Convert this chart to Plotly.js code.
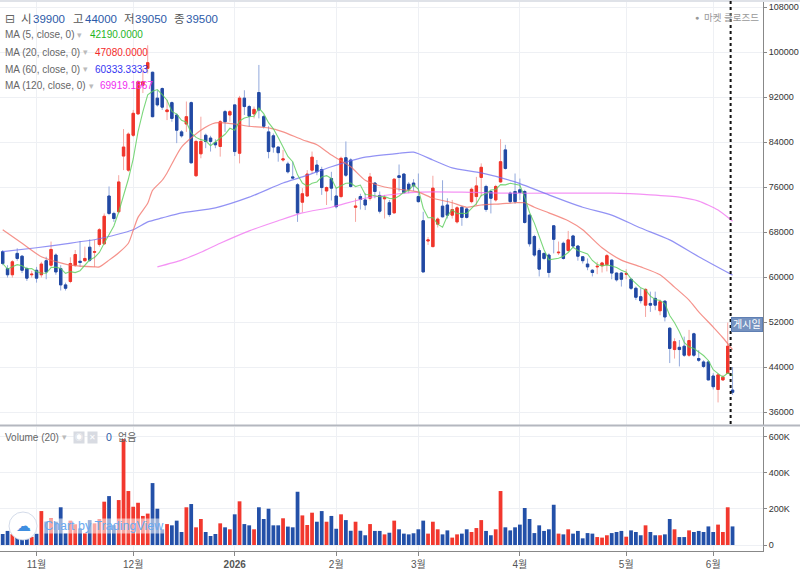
<!DOCTYPE html>
<html><head><meta charset="utf-8">
<script src="https://cdn.plot.ly/plotly-3.0.1.min.js"></script>
<style>html,body{margin:0;padding:0;background:#fff;}#chart{width:800px;height:569px;}</style>
</head><body><div id="chart"></div>
<script>
// ---- data (bar index 0 = first visible trading day) ----
const open = [64500,61500,60400,64200,63700,61500,60400,61200,60400,62900,
62100,63900,61500,58600,59200,62100,62800,62900,65300,64400,
65800,65900,74400,71300,71600,81500,79000,85200,89000,94100,
97100,96400,91800,93500,89400,91000,88800,85800,87200,91000,
78000,81900,85200,84700,83900,83200,89400,88800,90600,82000,
91800,90300,89000,92800,88500,85800,85100,83100,80800,80100,
77800,76400,73300,74400,79000,79900,79100,75300,77500,74400,
74300,81200,80800,72400,74300,73700,74000,76700,74500,73900,
73200,71400,78000,78300,76500,76700,74300,70000,66400,65400,
69400,72600,72800,71000,69800,72400,72100,73400,74300,77700,
76100,75200,73700,76900,82600,74900,75200,75500,75200,71000,
67200,64700,64200,63900,69100,64300,66000,64700,67300,65500,
63600,62300,61200,61800,62000,62200,63000,60700,60700,60500,
59600,58000,56500,55000,55300,56200,54000,55700,50900,47100,
47500,47700,46100,49900,45500,44900,44900,42400,40000,41700,
42900,39900];
const high = [64800,62100,63000,65100,63900,61800,61100,61800,62700,63600,
66300,64200,62100,59000,63500,64800,66400,65400,66700,66600,
68700,71300,76100,71600,78100,86300,85700,89700,95000,97100,
101200,96500,93200,93700,91500,91200,89100,86100,91200,91200,
84400,88500,85500,85100,84500,87900,89700,89700,90600,92200,
93200,90600,90300,97700,88800,86800,85500,83200,82600,80500,
80500,76700,75800,79000,82300,80800,79600,76100,78700,75800,
81400,84100,81100,74000,74800,74900,78500,76900,75200,74600,
73700,77500,80000,78400,76900,77400,78400,71600,67100,78000,
70600,77200,74000,73700,72600,72600,72400,75900,77800,80200,
76400,75500,76400,84500,83500,75200,78400,77500,75500,71200,
67500,65100,64300,64200,69200,66300,66300,68200,67500,65700,
63700,63300,61400,62700,62700,64100,63100,60800,60900,61400,
59800,58300,58000,58000,57400,57400,56000,55900,51100,49100,
48800,49400,50600,50100,47000,45200,45200,42900,42900,42600,
51900,44000];
const low = [62100,59900,59900,62900,60700,59300,59900,59000,59900,59600,
61800,60400,57600,57600,58900,61800,61800,62700,62700,61800,
65400,65700,71000,69800,71300,79000,78700,84900,88800,92700,
96200,88400,90300,89700,87900,87600,83800,84800,85800,80200,
77800,81100,82900,82300,82900,81400,85800,87600,81500,80200,
88800,86700,88200,88200,86400,81100,82100,80500,80500,78400,
77500,69800,71500,74300,78400,78100,74600,72800,73600,72200,
74000,77800,75900,69800,72000,71900,73600,74000,71300,70400,
70700,71300,75200,74800,74900,75300,73200,60900,65700,65300,
68800,70600,70400,70400,69500,69100,70400,73100,72800,74300,
71600,71300,73400,76800,79100,73100,73000,73700,69500,65400,
63600,60100,63000,59900,64200,63900,63100,64500,65100,62900,
62400,61200,60100,60500,60800,61000,59600,59200,58300,59600,
57700,55900,55300,52900,53800,54100,53200,52100,44700,45500,
44100,45800,45800,45800,44900,43800,41700,40000,37700,41600,
42800,39050];
const close = [62400,60400,62700,63300,61200,59800,60500,59800,62300,60900,
64900,60900,58600,58000,62400,64000,62600,63300,63000,64500,
68400,70800,71300,70400,76900,83100,85400,89100,94700,94700,
98100,88500,90600,90200,89700,88200,86100,85100,88500,80300,
84100,84100,84100,84100,83500,87600,87600,89400,82300,91800,
90300,88600,89800,89700,86800,82300,83100,82100,81000,78700,
77600,71400,74800,78300,81300,78700,75900,75900,75800,72500,
81100,78100,76100,72600,73800,72800,77800,75200,71700,74100,
71100,77400,77700,75000,75600,76200,73400,60900,66600,75800,
70300,70700,71000,72000,72300,70600,70600,75600,76200,79500,
72000,74000,76100,80500,79300,73400,73400,75000,69700,65900,
63900,61400,63300,60800,66700,64400,63300,66600,65500,63700,
62900,61800,60800,61900,62500,63800,60700,59500,59600,60600,
58000,56400,55800,57800,55000,55000,55600,52900,47300,48500,
47100,46100,48700,46100,45200,44100,41700,40500,42600,42200,
47700,39500];
const volume = [61000,78000,60000,40000,35000,35000,45000,62000,188000,130000,
148000,129000,209000,65000,135000,115000,92000,65000,138000,120000,
144000,240000,271000,110000,249000,587000,299000,212000,234000,161000,
174000,343000,201000,87000,116000,109000,135000,72000,209000,227000,
98000,144000,72000,50000,61000,120000,98000,87000,170000,242000,
116000,109000,87000,209000,144000,201000,109000,109000,148000,102000,
98000,295000,164000,111000,179000,129000,188000,129000,161000,90000,
170000,138000,79000,129000,79000,54000,116000,78000,78000,59000,
68000,135000,87000,63000,59000,65000,87000,135000,63000,129000,
87000,59000,81000,41000,59000,63000,87000,72000,94000,138000,
78000,54000,87000,299000,98000,81000,98000,113000,205000,144000,
66000,109000,78000,87000,223000,63000,59000,87000,63000,78000,
37000,66000,63000,44000,41000,54000,66000,72000,78000,46000,
81000,72000,54000,109000,72000,54000,54000,59000,144000,87000,
44000,44000,81000,72000,78000,72000,103000,72000,113000,72000,
209000,103000];

// moving averages (bar index, value)
const ma20Idx = [0,4,8,12,14,19,20,22,24,26,27,28,30,31,33,34,37,41,44,48,51,55,58,62,65,68,72,75,79,82,86,89,93,96,99,103,106,108,110,113,117,120,124,128,132,136,139,142,144,147,149,151];
const ma20Val = [68400,66000,63600,62500,62100,61800,61800,63000,64300,66000,68300,70600,73100,75400,77200,78500,83100,86100,87400,87200,86800,86500,85800,84400,83500,81700,79600,77200,76000,75600,75100,74000,73200,72400,72800,73000,73200,73200,72400,71400,70000,68400,65200,63000,61800,60400,58200,55900,53800,51100,49200,47080];
const ma60Idx = [0,7,13,20,27,30,33,37,44,51,58,62,68,75,82,85,89,93,99,106,113,120,126,132,138,144,151];
const ma60Val = [64500,65200,65900,66800,68400,69800,70500,71400,72300,74200,76700,77800,79600,81300,82000,82200,80800,79400,78500,76900,74600,72400,71000,68700,66600,63600,60333];
const ma120Idx = [32,37,41,45,51,57,62,68,75,82,86,95,103,113,126,134,140,144,148,151];
const ma120Val = [61800,63000,64400,66000,68200,70000,71400,72400,74000,74800,75100,75100,74900,74900,74900,74600,74200,73500,71900,69919];

const priceTicks = [36000,44000,52000,60000,68000,76000,84000,92000,100000,108000];
const volTicks = [0,200000,400000,600000];
const volTickText = ['0','200K','400K','600K'];
const monthTickIdx = [7,27,48,69,86,107,129,147];
const monthTickText = ['11월','12월','<b>2026</b>','2월','3월','4월','5월','6월'];

// ---- derived ----
const idx = open.map((_, i) => i);
const ma5 = close.map((_, i) => { const s = close.slice(Math.max(0, i - 4), i + 1); return s.reduce((a, b) => a + b, 0) / s.length; });
const bodyHigh = open.map((o, i) => Math.max(o, close[i]));
const bodyLow = open.map((o, i) => Math.min(o, close[i]));
const UP = '#f0352b', DOWN = '#2249a3', UPW = '#f6a6a1', DOWNW = '#93a9dc';
const volColors = open.map((o, i) => close[i] >= o ? '#f2382e' : '#2350a8');

const W = 763, H = 550, T = 1;
const px = x => x / W;
const py = y => (T + H - y) / H;
const xRange = [-0.56, 157.3];

const traces = [
  {type:'candlestick', x:idx, open:open, high:high, low:low, close:close, xaxis:'x', yaxis:'y',
   increasing:{line:{color:UPW,width:1}, fillcolor:UPW}, decreasing:{line:{color:DOWNW,width:1}, fillcolor:DOWNW}, hoverinfo:'skip'},
  {type:'candlestick', x:idx, open:open, high:bodyHigh, low:bodyLow, close:close, xaxis:'x', yaxis:'y',
   increasing:{line:{color:UP,width:1}, fillcolor:UP}, decreasing:{line:{color:DOWN,width:1}, fillcolor:DOWN}, hoverinfo:'skip'},
  {type:'scatter', mode:'lines', x:ma120Idx, y:ma120Val, xaxis:'x', yaxis:'y', line:{color:'rgba(240,110,240,0.75)', width:1.2, shape:'spline', smoothing:0.6}, hoverinfo:'skip'},
  {type:'scatter', mode:'lines', x:ma60Idx, y:ma60Val, xaxis:'x', yaxis:'y', line:{color:'rgba(110,110,240,0.75)', width:1.2, shape:'spline', smoothing:0.6}, hoverinfo:'skip'},
  {type:'scatter', mode:'lines', x:ma20Idx, y:ma20Val, xaxis:'x', yaxis:'y', line:{color:'rgba(242,110,100,0.75)', width:1.2, shape:'spline', smoothing:0.6}, hoverinfo:'skip'},
  {type:'scatter', mode:'lines', x:idx, y:ma5, xaxis:'x', yaxis:'y', line:{color:'rgba(90,205,90,0.8)', width:1.1}, hoverinfo:'skip'},
  {type:'bar', x:idx, y:volume, xaxis:'x2', yaxis:'y2', marker:{color:volColors, line:{width:0}}, hoverinfo:'skip'}
];

const FONT = 'Liberation Sans, "Noto Sans CJK KR", sans-serif';
function ann(x, y, text, size, color, extra) {
  return Object.assign({xref:'paper', yref:'paper', x:px(x), y:py(y), xanchor:'left', yanchor:'middle',
    text:text, showarrow:false, font:{family:FONT, size:size, color:color}}, extra || {});
}
const NUM = '#2c5aa8', LAB = '#555';
const annotations = [
  ann(3, 19, '⊟', 12, '#666', {font:{family:'DejaVu Sans', size:12, color:'#666'}}),
  ann(19, 19, '시', 11.5, LAB), ann(31, 19, '39900', 11.5, NUM),
  ann(71, 19, '고', 11.5, LAB), ann(83, 19, '44000', 11.5, NUM),
  ann(122, 19, '저', 11.5, LAB), ann(133, 19, '39050', 11.5, NUM),
  ann(172, 19, '종', 11.5, LAB), ann(184, 19, '39500', 11.5, NUM),
  ann(3, 35, 'MA (5, close, 0)', 10, '#666'), ann(75, 35, '▾', 9, '#bbb'), ann(88, 35, '42190.0000', 10, '#1fb51f'),
  ann(3, 52, 'MA (20, close, 0)', 10, '#666'), ann(81, 52, '▾', 9, '#bbb'), ann(93, 52, '47080.0000', 10, '#f42a2a'),
  ann(3, 69, 'MA (60, close, 0)', 10, '#666'), ann(81, 69, '▾', 9, '#bbb'), ann(93, 69, '60333.3333', 10, '#3434f2'),
  ann(3, 85.5, 'MA (120, close, 0)', 10, '#666'), ann(87, 85.5, '▾', 9, '#bbb'), ann(98, 85.5, '69919.1667', 10, '#f02cf0'),
  ann(693, 18, '●', 7, '#999'), ann(702, 18, '마켓 클로즈드', 9.5, '#999'),
  ann(3, 437, 'Volume (20)', 10, '#666'), ann(60, 437, '▾', 9, '#bbb'),
  ann(73, 437, '◉', 8, '#fff', {bgcolor:'#d8dbe2', borderpad:1}),
  ann(87, 437, '✕', 8, '#fff', {bgcolor:'#d8dbe2', borderpad:1}),
  ann(104, 437, '0', 10.5, NUM), ann(116, 437, '없음', 10, '#666'),
  ann(731, 324.5, '게시일', 10, '#fff', {bgcolor:'#7592c0', bordercolor:'#5f7fb3', borderwidth:1, borderpad:1}),
  ann(23, 526, '☁', 15, '#3f8ee0', {xanchor:'center', font:{family:'DejaVu Sans', size:15, color:'#3f8ee0'}}),
  ann(43, 526, 'Chart by TradingView', 12.5, '#6aaaf0', {bgcolor:'rgba(255,255,255,0.55)', borderpad:0})
];

const shapes = [
  {type:'rect', xref:'paper', yref:'paper', x0:0, x1:800/W, y0:py(2), y1:py(-1), fillcolor:'#dfe2e8', line:{width:0}, layer:'above'},
  {type:'line', xref:'paper', yref:'paper', x0:0, x1:800/W, y0:py(425.5), y1:py(425.5), line:{color:'#b4b7bf', width:2}},
  {type:'line', xref:'x', yref:'paper', x0:150.6, x1:150.6, y0:py(424), y1:1, line:{color:'#111', width:2, dash:'dot'}},
  {type:'circle', xref:'paper', yref:'paper', x0:px(9), x1:px(37), y0:py(540), y1:py(512), fillcolor:'#ffffff', line:{color:'rgba(200,210,228,0.8)', width:1}, layer:'above'}
];

const axisCommon = {showgrid:true, gridcolor:'#eef0f4', gridwidth:1, zeroline:false};
const layout = {
  width:800, height:569, margin:{l:0, r:37, t:T, b:18},
  paper_bgcolor:'#fff', plot_bgcolor:'#fff', showlegend:false, hovermode:false,
  font:{family:FONT, color:'#333'}, bargap:0.22,
  xaxis:Object.assign({}, axisCommon, {domain:[0,1], anchor:'y', range:xRange, tickvals:monthTickIdx, showticklabels:false, ticks:'', showline:false, rangeslider:{visible:false}}),
  xaxis2:Object.assign({}, axisCommon, {domain:[0,1], anchor:'y2', range:xRange, tickvals:monthTickIdx, ticktext:monthTickText,
    tickfont:{size:10, color:'#555'}, ticks:'outside', ticklen:4, tickcolor:'#888', showline:true, linecolor:'#888', linewidth:1}),
  yaxis:Object.assign({}, axisCommon, {domain:[py(425), 1], anchor:'x', side:'right', range:[33689, 109067], tickvals:priceTicks,
    ticktext:priceTicks.map(String), showline:true, linecolor:'#888', ticks:'outside', ticklen:3, tickcolor:'#888', tickfont:{size:9, color:'#333'}}),
  yaxis2:Object.assign({}, axisCommon, {domain:[0, py(427)], anchor:'x2', side:'right', range:[-33200, 653700], tickvals:volTicks,
    ticktext:volTickText, showline:true, linecolor:'#888', ticks:'outside', ticklen:3, tickcolor:'#888', tickfont:{size:9, color:'#333'}}),
  annotations:annotations, shapes:shapes
};
Plotly.newPlot('chart', traces, layout, {staticPlot:true, displayModeBar:false});
</script></body></html>
